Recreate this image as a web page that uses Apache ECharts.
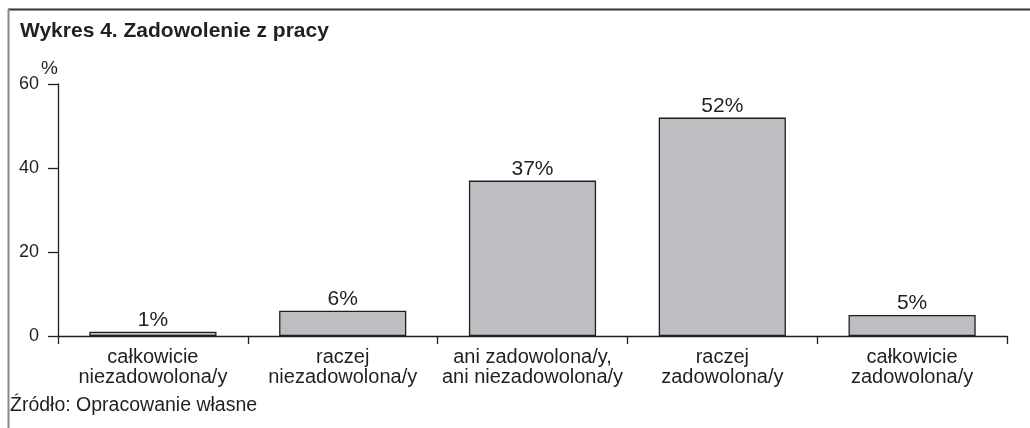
<!DOCTYPE html>
<html>
<head>
<meta charset="utf-8">
<script src="https://cdn.jsdelivr.net/npm/echarts@6/dist/echarts.min.js"></script>
<style>
html,body{margin:0;padding:0;background:#fff;}
#chart{width:1030px;height:428px;}
</style>
</head>
<body>
<div id="chart"></div>
<script>
const titleText = 'Wykres 4. Zadowolenie z pracy';
const sourceText = 'Źródło: Opracowanie własne';
const categories = [
  'całkowicie\nniezadowolona/y',
  'raczej\nniezadowolona/y',
  'ani zadowolona/y,\nani niezadowolona/y',
  'raczej\nzadowolona/y',
  'całkowicie\nzadowolona/y'
];
const values = [1, 6, 37, 52, 5];
const yTicks = [0, 20, 40, 60];

const FONT = '"Liberation Sans", Arial, sans-serif';
const INK = '#231f20';

const chart = echarts.init(document.getElementById('chart'), null, {renderer: 'canvas'});
chart.setOption({
  animation: false,
  backgroundColor: '#fff',
  textStyle: {fontFamily: FONT, color: INK},
  grid: {left: 58, right: 23, top: 84, bottom: 92, containLabel: false},
  title: {
    text: titleText,
    left: 15, top: 16,
    textStyle: {fontFamily: FONT, fontWeight: 'bold', fontSize: 21, color: INK}
  },
  graphic: [
    {type: 'line', shape: {x1: 8, y1: 9.5, x2: 1030, y2: 9.5}, style: {stroke: '#333', lineWidth: 2}},
    {type: 'line', shape: {x1: 8.5, y1: 9, x2: 8.5, y2: 428}, style: {stroke: '#888', lineWidth: 2}},
    {type: 'text', left: 10, top: 396, style: {text: sourceText, font: '19.5px ' + FONT, fill: INK}},
    {type: 'text', left: 41, top: 59, style: {text: '%', font: '19px ' + FONT, fill: INK}}
  ],
  xAxis: {
    type: 'category',
    data: categories,
    axisLine: {show: true, lineStyle: {color: INK, width: 1.3}},
    axisTick: {show: true, length: 8, alignWithLabel: false, lineStyle: {color: INK, width: 1.3}},
    axisLabel: {fontSize: 20, lineHeight: 20, color: INK, margin: 11, interval: 0, fontFamily: FONT},
    splitLine: {show: false}
  },
  yAxis: {
    type: 'value',
    min: yTicks[0], max: yTicks[yTicks.length - 1], interval: 20,
    axisLine: {show: true, lineStyle: {color: INK, width: 1.3}},
    axisTick: {show: true, length: 10, lineStyle: {color: INK, width: 1.3}},
    axisLabel: {fontSize: 18, color: INK, margin: 19, fontFamily: FONT},
    splitLine: {show: false}
  },
  series: [{
    type: 'bar',
    data: values,
    barWidth: '67%',
    itemStyle: {color: '#bdbec1', borderColor: INK, borderWidth: 1.3},
    label: {
      show: true, position: 'top', distance: 1,
      formatter: p => p.value + '%',
      fontSize: 21, color: INK, fontFamily: FONT
    }
  }]
});
</script>
</body>
</html>
